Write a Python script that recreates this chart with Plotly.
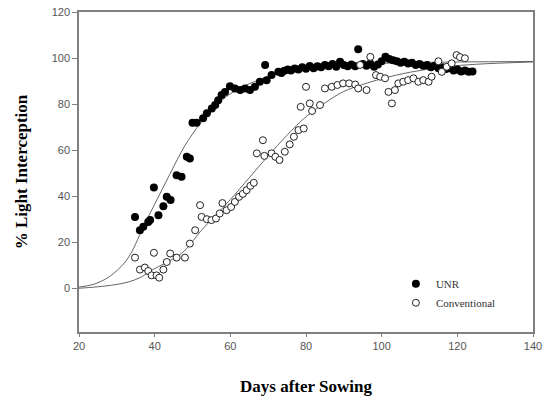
import plotly.graph_objects as go

# ---------------- data ----------------
unr_x = [34.8, 36.1, 37.0, 38.3, 38.8, 39.8, 41.0, 42.3, 43.2, 44.2, 45.8, 47.1, 48.5, 49.3,
         50.0, 51.1, 52.8, 53.8, 55.1, 56.0, 56.8, 57.7, 58.6, 59.9, 61.2, 62.6, 63.9, 65.2,
         66.5, 67.8, 69.2, 69.6, 70.9, 72.7, 73.5, 74.3, 75.2, 76.0, 77.0, 78.0, 79.0, 80.0,
         81.0, 82.0, 83.0, 84.0, 85.0, 86.0, 87.0, 88.0, 89.0, 90.0, 91.0, 92.0, 93.0, 93.8,
         95.0, 96.0, 97.0, 98.0, 99.0, 100.0, 101.0, 102.0, 103.0, 104.0, 105.0, 106.0, 107.0,
         108.0, 109.0, 110.0, 111.0, 112.0, 113.0, 114.0, 115.0, 116.0, 117.0, 118.0, 119.0,
         120.0, 121.0, 122.0, 123.0, 124.0]
unr_y = [30.9, 25.2, 26.7, 28.8, 29.6, 43.8, 31.7, 35.6, 39.7, 38.3, 49.1, 48.4, 57.1, 56.4,
         71.9, 71.9, 73.8, 76.0, 78.1, 79.6, 81.7, 83.9, 85.3, 87.8, 86.8, 86.1, 86.8, 86.1,
         87.5, 89.7, 97.0, 90.4, 92.6, 94.0, 93.5, 94.5, 95.0, 94.6, 95.5, 95.0, 96.0, 95.4,
         96.5, 95.6, 96.4, 96.0, 97.0, 96.4, 97.4, 96.2, 98.4, 97.0, 96.4, 97.2, 96.4, 103.8,
         97.4, 96.6, 97.6, 96.2, 97.2, 98.6, 100.6, 99.6, 99.0, 98.6, 98.0, 98.4, 97.6,
         98.0, 97.0, 97.4, 96.6, 97.0, 96.0, 96.6, 95.6, 96.0, 95.2, 95.6, 94.6,
         95.0, 94.2, 94.6, 94.0, 94.2]

conv_x = [34.8, 36.1, 37.4, 38.3, 39.2, 39.8, 40.5, 41.2, 42.3, 43.2, 44.1, 45.8, 48.0, 49.3,
          50.7, 52.0, 52.4, 53.8, 55.0, 56.2, 57.2, 57.9, 59.0, 60.2, 61.2, 62.3, 63.3, 64.3,
          65.3, 66.2, 67.0, 68.6, 69.0, 70.9, 71.9, 73.0, 74.4, 75.7, 76.8, 78.0, 78.6, 79.4,
          80.0, 81.0, 81.6, 83.7, 85.0, 86.8, 88.3, 89.8, 91.4, 93.0, 93.8, 94.3, 96.0, 97.0,
          98.5, 99.6, 100.9, 101.8, 102.7, 103.5, 104.4, 105.7, 107.0, 108.4, 109.7, 111.0,
          112.4, 113.2, 115.0, 115.9, 117.2, 118.5, 119.8, 120.7, 122.0]
conv_y = [13.3, 8.1, 9.0, 7.5, 5.6, 15.4, 5.6, 4.6, 8.1, 11.4, 15.1, 13.3, 13.3, 19.4,
          25.2, 36.1, 31.0, 30.0, 29.6, 30.3, 32.5, 37.0, 33.9, 35.3, 37.5, 39.7, 41.0, 42.6,
          44.5, 45.8, 58.6, 64.3, 57.5, 58.6, 57.1, 55.7, 59.3, 62.5, 65.8, 68.7, 78.8, 69.4,
          87.5, 80.3, 77.0, 79.6, 86.8, 87.5, 88.3, 89.0, 89.0, 88.5, 86.8, 97.0, 86.1, 100.5,
          92.6, 91.9, 91.2, 85.3, 80.3, 86.1, 89.0, 89.7, 90.4, 91.2, 89.7, 90.4,
          89.7, 91.9, 98.6, 94.0, 96.2, 97.7, 101.3, 100.4, 99.9]

# fitted curves
unr_fit_x = [20, 24, 28, 32, 34, 36, 38, 40, 42, 44, 46, 48, 50, 52, 55, 58, 62, 66, 70, 75,
             80, 90, 100, 115, 140]
unr_fit_y = [0.5, 1.8, 5.0, 11.0, 16.0, 23.0, 30.0, 36.5, 43.0, 49.5, 56.0, 62.0, 67.0, 71.5,
             77.0, 82.0, 86.5, 89.5, 92.0, 94.0, 95.5, 97.0, 97.7, 98.2, 98.5]
conv_fit_x = [20, 24, 28.5, 33, 36.5, 39, 42.5, 46, 48.5, 52, 56, 60, 65, 70, 75, 80, 85, 90,
              95, 100, 108, 117, 125, 140]
conv_fit_y = [0.0, 0.5, 1.3, 2.7, 4.9, 7.6, 10.7, 13.8, 17.3, 24.5, 31.5, 38.5, 48.0, 57.5,
              66.5, 74.5, 80.5, 85.5, 88.5, 91.0, 94.0, 96.2, 97.3, 98.3]

x_ticks = [20, 40, 60, 80, 100, 120, 140]
y_ticks = [0, 20, 40, 60, 80, 100, 120]

# ---------------- figure ----------------
fig = go.Figure()
fig.add_trace(go.Scatter(x=unr_fit_x, y=unr_fit_y, mode="lines", line_shape="spline",
                         line=dict(color="#555555", width=0.9), showlegend=False, hoverinfo="skip"))
fig.add_trace(go.Scatter(x=conv_fit_x, y=conv_fit_y, mode="lines", line_shape="spline",
                         line=dict(color="#555555", width=0.9), showlegend=False, hoverinfo="skip"))
fig.add_trace(go.Scatter(x=unr_x, y=unr_y, mode="markers", name="UNR",
                         marker=dict(symbol="circle", size=8, color="black",
                                     line=dict(color="black", width=0))))
fig.add_trace(go.Scatter(x=conv_x, y=conv_y, mode="markers", name="Conventional",
                         marker=dict(symbol="circle", size=7, color="white",
                                     line=dict(color="#222222", width=1))))

axis_common = dict(showgrid=False, zeroline=False, showline=True, linecolor="#808080",
                   linewidth=1.5, mirror=True, ticks="outside", tickcolor="#808080",
                   ticklabeloverflow="allow", automargin=False,
                   tickfont=dict(family="Liberation Sans, Arial", size=11, color="#555555"))

fig.update_layout(
    width=544, height=398,
    margin=dict(l=79, r=11, t=12, b=66),
    paper_bgcolor="white", plot_bgcolor="white",
    xaxis=dict(range=[20, 140], tickvals=x_ticks, ticklen=3,
               title=dict(text="Days after Sowing", standoff=29,
                          font=dict(family="Liberation Serif, Times New Roman", size=17,
                                    color="black")),
               **axis_common),
    yaxis=dict(range=[-19, 120], tickvals=y_ticks, ticklen=5,
               title=dict(text="% Light Interception", standoff=20,
                          font=dict(family="Liberation Serif, Times New Roman", size=17,
                                    color="black")),
               **axis_common),
    legend=dict(x=0.698, y=0.196, xanchor="left", yanchor="top", bgcolor="rgba(0,0,0,0)",
                font=dict(family="Liberation Serif, Times New Roman", size=11, color="#333333"),
                tracegroupgap=0),
    showlegend=True,
)
fig.update_xaxes(title_font=dict(weight="bold"))
fig.update_yaxes(title_font=dict(weight="bold"))

# remove the browser's default 8px body margin so the figure fills the window
fig.write_html("out.html", config={"displayModeBar": False},
               post_script="document.body.style.margin='0';")
